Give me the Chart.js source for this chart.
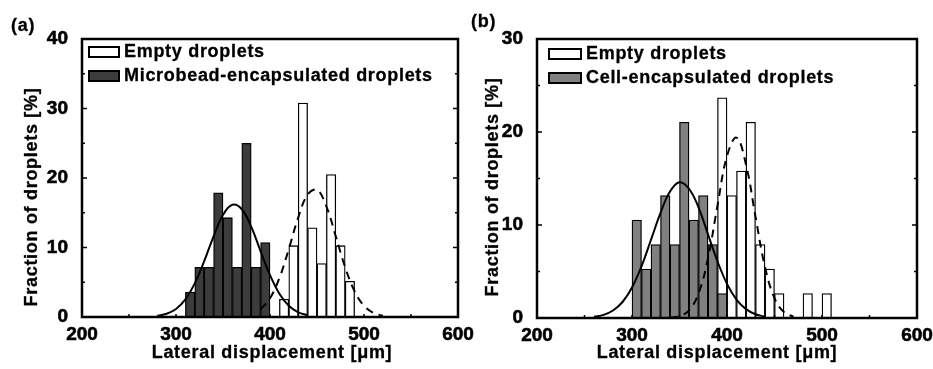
<!DOCTYPE html>
<html>
<head>
<meta charset="utf-8">
<script src="https://cdn.jsdelivr.net/npm/chart.js@4.4.0/dist/chart.umd.min.js"></script>
<style>
    body { margin: 0; background: #fff; }
    #wrap { position: relative; width: 933px; height: 369px; overflow: hidden;
            font-family: "Liberation Sans", Arial, sans-serif; font-weight: bold; color: #000; }
    canvas { position: absolute; top: 0; }
    .txt { position: absolute; font-size: 18px; line-height: 20px; white-space: nowrap;
           letter-spacing: 0.7px; -webkit-text-stroke: 0.3px #000; }
    .rot { transform: translate(-50%, -50%) rotate(-90deg); }
    .ctr { transform: translate(-50%, -50%); }
    .box { position: absolute; box-sizing: border-box; border: 2px solid #000; }
</style>
</head>
<body>
<div id="wrap">
    <canvas id="chartA" width="480" height="369" style="left:0"></canvas>
    <canvas id="chartB" width="473" height="369" style="left:460px"></canvas>

    <div class="txt" style="left:11px;top:15px">(a)</div>
    <div class="txt" style="left:471px;top:11px">(b)</div>

    <div class="txt rot" style="left:31px;top:197px">Fraction of droplets [%]</div>
    <div class="txt rot" style="left:492px;top:187px">Fraction of droplets [%]</div>
    <div class="txt ctr" style="left:272px;top:352px">Lateral displacement [μm]</div>
    <div class="txt ctr" style="left:717px;top:352px">Lateral displacement [μm]</div>

    <div class="box" style="left:88px;top:46px;width:32px;height:12px;background:#fff"></div>
    <div class="txt" style="left:124px;top:41px">Empty droplets</div>
    <div class="box" style="left:88px;top:70px;width:32px;height:12px;background:#3c3c3c"></div>
    <div class="txt" style="left:124px;top:65px">Microbead-encapsulated droplets</div>

    <div class="box" style="left:548px;top:48px;width:34px;height:12px;background:#fff"></div>
    <div class="txt" style="left:586px;top:43px">Empty droplets</div>
    <div class="box" style="left:548px;top:72px;width:34px;height:12px;background:#808080"></div>
    <div class="txt" style="left:586px;top:67px">Cell-encapsulated droplets</div>
</div>

<script>
// panel (a): bin centres and fractions [%]
const emptyBinsA = [415, 425, 435, 445, 455, 465, 475, 485];
const emptyA = [2.56, 10.26, 30.77, 12.82, 7.69, 20.51, 10.26, 5.13];
const beadBinsA = [315, 325, 335, 345, 355, 365, 375, 385, 395];
const beadA = [3.57, 7.14, 7.14, 17.86, 14.29, 7.14, 25.0, 7.14, 10.71];

// fitted curves
const beadFitXA = [280, 290, 300, 310, 320, 330, 340, 350, 360, 370, 380, 390, 400, 410, 420, 430, 440];
const beadFitA = [0.16, 0.46, 1.16, 2.53, 4.83, 8.03, 11.6, 14.7, 16.15, 15.5, 13.0, 9.46, 6.02, 3.34, 1.61, 0.68, 0.25];
const emptyFitXA = [390, 400, 410, 420, 430, 440, 450, 460, 470, 480, 490, 500, 510, 520];
const emptyFitA = [1.10, 2.71, 5.61, 9.77, 14.3, 17.6, 18.3, 15.9, 11.6, 7.15, 3.70, 1.61, 0.59, 0.18];

// panel (b)
const emptyBinsB = [395, 405, 415, 425, 435, 445, 455, 485, 505];
const emptyB = [23.68, 13.16, 15.79, 21.05, 7.89, 5.26, 2.63, 2.63, 2.63];
const cellBinsB = [305, 315, 325, 335, 345, 355, 365, 375, 385, 395];
const cellB = [10.53, 5.26, 7.89, 13.16, 7.89, 21.05, 10.53, 13.16, 7.89, 2.63];

const cellFitXB = [260, 270, 280, 290, 300, 310, 320, 330, 340, 350, 360, 370, 380, 390, 400, 410, 420, 430, 440];
const cellFitB = [0.13, 0.34, 0.81, 1.72, 3.28, 5.56, 8.41, 11.3, 13.6, 14.6, 13.9, 11.9, 9.0, 6.09, 3.67, 1.98, 0.95, 0.40, 0.15];
const emptyFitXB = [340, 350, 360, 370, 380, 390, 400, 410, 420, 430, 440, 450, 460, 470];
const emptyFitB = [0.04, 0.2, 0.83, 2.63, 6.42, 12.1, 17.4, 19.4, 16.5, 10.9, 5.48, 2.13, 0.63, 0.15];

const tickFont = { family: "'Liberation Sans', Arial, sans-serif", size: 19, weight: "bold", lineHeight: 1.2 };

const toPoints = (xs, ys) => xs.map((x, i) => ({ x: x, y: ys[i] }));

// frame and inward ticks like the Origin plot
const frame = {
    id: "frame",
    afterDatasetsDraw(chart) {
        const { ctx, chartArea: a, scales: { x, y } } = chart;
        ctx.save();
        ctx.strokeStyle = "#000";
        ctx.lineWidth = 1.5;
        ctx.beginPath();
        for (let v = y.min; v <= y.max; v += 5) {
            const py = y.getPixelForValue(v);
            const len = v % 10 === 0 ? 5 : 3;
            ctx.moveTo(a.left, py); ctx.lineTo(a.left + len, py);
            ctx.moveTo(a.right, py); ctx.lineTo(a.right - len, py);
        }
        for (let v = x.min; v <= x.max; v += 50) {
            const px = x.getPixelForValue(v);
            ctx.moveTo(px, a.bottom); ctx.lineTo(px, a.bottom - 3);
        }
        ctx.stroke();
        ctx.lineWidth = 2.5;
        ctx.strokeRect(a.left, a.top, a.right - a.left, a.bottom - a.top);
        ctx.restore();
    }
};

function barSet(xs, ys, fill, order) {
    return {
        type: "bar",
        data: toPoints(xs, ys),
        backgroundColor: fill,
        borderColor: "#000",
        borderWidth: 1.3,
        borderSkipped: false,
        barPercentage: 1,
        categoryPercentage: 1,
        grouped: false,
        order: order
    };
}

function lineSet(xs, ys, dash) {
    return {
        type: "line",
        data: toPoints(xs, ys),
        borderColor: "#000",
        borderWidth: 2,
        borderDash: dash,
        pointRadius: 0,
        tension: 0.4,
        fill: false,
        order: 0
    };
}

function makeChart(id, datasets, cfg) {
    const tickOpts = { font: tickFont, color: "#000", textStrokeColor: "#000", textStrokeWidth: 0.6 };
    return new Chart(document.getElementById(id), {
        type: "bar",
        data: { datasets: datasets },
        options: {
            responsive: false,
            animation: false,
            layout: { padding: { top: 39, right: cfg.padRight, left: 0, bottom: 0 } },
            plugins: { legend: { display: false }, tooltip: { enabled: false } },
            scales: {
                x: {
                    type: "linear", min: 200, max: 600, offset: false,
                    grid: { display: false }, border: { display: false },
                    ticks: { ...tickOpts, stepSize: 100, padding: -2, maxRotation: 0 },
                    afterFit: (s) => { s.height = cfg.xHeight; }
                },
                y: {
                    min: 0, max: cfg.yMax,
                    grid: { display: false }, border: { display: false },
                    ticks: { ...tickOpts, stepSize: 10, padding: 6 },
                    afterFit: (s) => { s.width = cfg.yWidth; }
                }
            }
        },
        plugins: [frame]
    });
}

makeChart("chartA", [
    barSet(emptyBinsA, emptyA, "#fff", 2),
    barSet(beadBinsA, beadA, "#3c3c3c", 1),
    lineSet(beadFitXA, beadFitA, []),
    lineSet(emptyFitXA, emptyFitA, [8, 6])
], { yMax: 40, yWidth: 82, xHeight: 52, padRight: 22 });

makeChart("chartB", [
    barSet(emptyBinsB, emptyB, "#fff", 2),
    barSet(cellBinsB, cellB, "#808080", 1),
    lineSet(cellFitXB, cellFitB, []),
    lineSet(emptyFitXB, emptyFitB, [8, 6])
], { yMax: 30, yWidth: 77, xHeight: 51, padRight: 16 });
</script>
</body>
</html>
